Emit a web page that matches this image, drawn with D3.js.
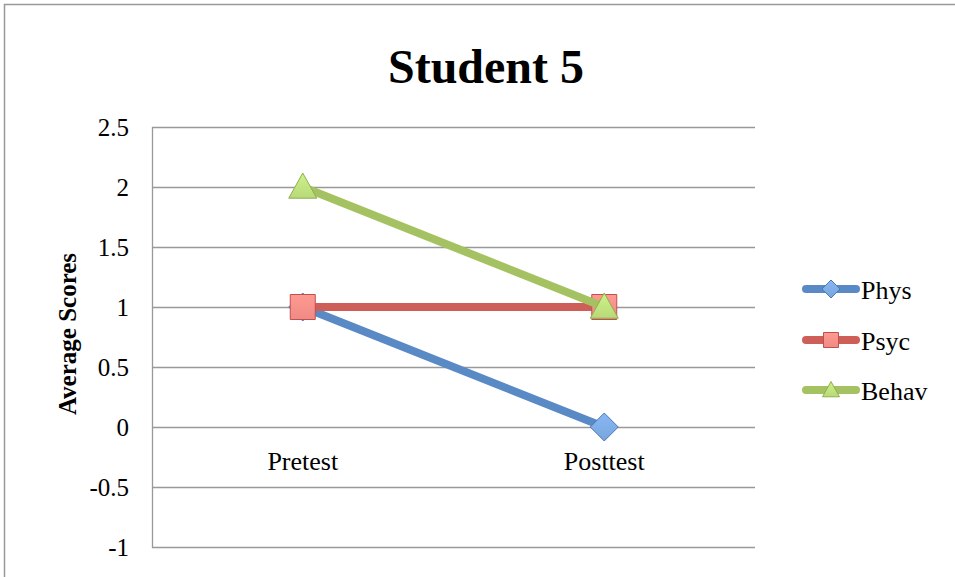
<!DOCTYPE html>
<html><head><meta charset="utf-8">
<script src="https://cdn.jsdelivr.net/npm/d3@7"></script>
<style>body{margin:0;background:#fff}svg{display:block}</style>
</head><body>
<svg id="c" width="955" height="577"></svg>
<script>
const categories = ["Pretest", "Posttest"];
const seriesNames = ["Phys", "Psyc", "Behav"];
const physValues = [1, 0];
const psycValues = [1, 1];
const behavValues = [2, 1];
const yTicks = [-1, -0.5, 0, 0.5, 1, 1.5, 2, 2.5];
const title = "Student 5";
const yTitle = "Average Scores";

const series = [
  {name: seriesNames[0], values: physValues, color: "#5a8ac6", fill: "#79a5dc", stroke: "#4a78b0", shape: "diamond"},
  {name: seriesNames[1], values: psycValues, color: "#cd5f58", fill: "#f08a84", stroke: "#c0504d", shape: "square"},
  {name: seriesNames[2], values: behavValues, color: "#a5c263", fill: "#b9d97a", stroke: "#8fae4e", shape: "triangle"}
];

const svg = d3.select("#c");
const font = "Liberation Serif";
const m = {left: 152, right: 755, top: 127, bottom: 547};

// outer frame
svg.append("rect").attr("x", 4.5).attr("y", 4.5).attr("width", 960).attr("height", 600)
  .attr("fill", "none").attr("stroke", "#999").attr("stroke-width", 1.5);

const x = d3.scaleBand().domain(categories).range([m.left, m.right]);
const y = d3.scaleLinear().domain([-1, 2.5]).range([m.bottom, m.top]);

// gridlines
svg.append("g").selectAll("line").data(yTicks).join("line")
  .attr("x1", m.left).attr("x2", m.right)
  .attr("y1", d => Math.round(y(d)) + 0.5).attr("y2", d => Math.round(y(d)) + 0.5)
  .attr("stroke", "#999").attr("stroke-width", 1.3);

// y axis line
svg.append("line").attr("x1", m.left + 0.5).attr("x2", m.left + 0.5)
  .attr("y1", m.top).attr("y2", m.bottom + 1).attr("stroke", "#999").attr("stroke-width", 1.3);

// y ticks via d3 axis
const yAxis = d3.axisLeft(y).tickValues(yTicks).tickSize(0).tickPadding(23)
  .tickFormat(d => String(d));
const ya = svg.append("g").attr("transform", `translate(${m.left},0)`).call(yAxis);
ya.select(".domain").remove();
ya.attr("font-family", font).attr("font-size", 25);
ya.selectAll("text").attr("fill", "#000").attr("dy", "0.33em");

// x category labels
const xAxis = d3.axisBottom(x).tickSize(0).tickPadding(0);
const xa = svg.append("g").attr("transform", `translate(0,${y(0)})`).call(xAxis);
xa.select(".domain").remove();
xa.attr("font-family", font).attr("font-size", 26);
xa.selectAll("text").attr("fill", "#000").attr("y", 43).attr("dy", 0);

// title
svg.append("text").attr("x", 486).attr("y", 83).attr("text-anchor", "middle")
  .attr("font-family", font).attr("font-weight", "bold").attr("font-size", 48).text(title);

// y title
svg.append("text").attr("transform", `translate(76,334) rotate(-90)`).attr("text-anchor", "middle")
  .attr("font-family", font).attr("font-weight", "bold").attr("font-size", 25).text(yTitle);

// defs for gradients
const defs = svg.append("defs");
series.forEach((s, i) => {
  const g = defs.append("linearGradient").attr("id", "g" + i).attr("x1", 0).attr("y1", 0).attr("x2", 0).attr("y2", 1);
  g.append("stop").attr("offset", "0%").attr("stop-color", d3.color(s.fill).brighter(0.3));
  g.append("stop").attr("offset", "100%").attr("stop-color", s.fill);
});

function markerPath(shape, size) {
  const h = size / 2;
  if (shape === "diamond") return `M0,${-h}L${h},0L0,${h}L${-h},0Z`;
  if (shape === "square") return `M${-h},${-h}H${h}V${h}H${-h}Z`;
  return `M0,${-h}L${h},${h * 0.8}L${-h},${h * 0.8}Z`;
}

const cx = c => x(c) + x.bandwidth() / 2;
const line = d3.line().x((d, i) => cx(categories[i])).y(d => y(d));

series.forEach((s, i) => {
  const g = svg.append("g");
  g.append("path").datum(s.values).attr("d", line).attr("fill", "none")
    .attr("stroke", s.color).attr("stroke-width", 8).attr("stroke-linecap", "round");
  const sz = s.shape === "diamond" ? 28 : s.shape === "square" ? 25 : 28;
  g.selectAll("path.m").data(s.values).join("path").attr("class", "m")
    .attr("transform", (d, j) => `translate(${cx(categories[j])},${y(d)})`)
    .attr("d", markerPath(s.shape, sz))
    .attr("fill", `url(#g${i})`).attr("stroke", s.stroke).attr("stroke-width", 1);
});

// legend
const ly = [289, 340, 390];
series.forEach((s, i) => {
  const g = svg.append("g").attr("transform", `translate(0,${ly[i]})`);
  g.append("line").attr("x1", 806).attr("x2", 856).attr("y1", 0).attr("y2", 0)
    .attr("stroke", s.color).attr("stroke-width", 8).attr("stroke-linecap", "round");
  const sz = s.shape === "diamond" ? 18 : s.shape === "square" ? 15 : 17;
  g.append("path").attr("transform", "translate(831,0)").attr("d", markerPath(s.shape, sz))
    .attr("fill", `url(#g${i})`).attr("stroke", s.stroke).attr("stroke-width", 1);
  g.append("text").attr("x", 861).attr("y", 10).attr("font-family", font).attr("font-size", 26)
    .attr("fill", "#000").text(s.name);
});
</script>
</body></html>
